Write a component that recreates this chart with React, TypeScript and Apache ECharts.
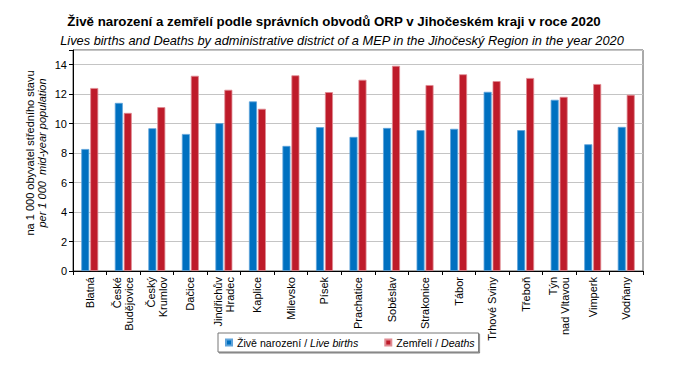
import React, { useEffect, useRef } from "react";
import * as echarts from "echarts";

const categories = [
  "Blatná", "České\nBudějovice", "Český\nKrumlov", "Dačice", "Jindřichův\nHradec", "Kaplice",
  "Milevsko", "Písek", "Prachatice", "Soběslav", "Strakonice", "Tábor", "Trhové Sviny",
  "Třeboň", "Týn\nnad Vltavou", "Vimperk", "Vodňany",
];
const liveBirths = [8.28, 11.41, 9.69, 9.3, 10.03, 11.51, 8.49, 9.76, 9.1, 9.71, 9.56, 9.65, 12.16, 9.56, 11.62, 8.6, 9.78];
const deaths = [12.42, 10.73, 11.12, 13.25, 12.3, 11.01, 13.28, 12.14, 12.98, 13.93, 12.62, 13.35, 12.89, 13.1, 11.82, 12.69, 11.96];
const yTicks = [0, 2, 4, 6, 8, 10, 12, 14];

const FONT = "'Liberation Sans', Arial, sans-serif";
const BLUE = "#0070C0";
const RED = "#BE1B2A";

export default function App() {
  const ref = useRef<HTMLDivElement>(null);
  useEffect(() => {
    if (!ref.current) return;
    const chart = echarts.init(ref.current, null, { renderer: "svg" });
    chart.setOption({
      animation: false,
      textStyle: { fontFamily: FONT },
      title: [
        {
          text: "Živě narození a zemřelí podle správních obvodů ORP v Jihočeském kraji v roce 2020",
          left: 329, top: 10, textAlign: "center",
          textStyle: { fontSize: 13.3, fontWeight: "bold", color: "#000", fontFamily: FONT },
        },
        {
          text: "Lives births and Deaths by administrative district of a MEP in the Jihočeský Region in the year 2020",
          left: 337, top: 29, textAlign: "center",
          textStyle: { fontSize: 12.8, fontStyle: "italic", fontWeight: "normal", color: "#000", fontFamily: FONT },
        },
      ],
      grid: { left: 73, right: 31, top: 50, bottom: 107, show: true, borderColor: "#555", borderWidth: 1 },
      legend: {
        left: 218, top: 333,
        itemWidth: 6, itemHeight: 6, itemGap: 26,
        icon: "rect",
        padding: [4, 4, 4, 7],
        borderColor: "#777", borderWidth: 1,
        shadowColor: "rgba(0,0,0,0.5)", shadowOffsetX: 1, shadowOffsetY: 1, shadowBlur: 1,
        backgroundColor: "#fff",
        data: ["live", "deaths"],
        formatter: (name: string) =>
          name === "live" ? "{a|Živě narození / }{b|Live births}" : "{a|Zemřelí / }{b|Deaths}",
        textStyle: {
          fontSize: 10.6, color: "#000",
          rich: {
            a: { fontSize: 10.6, fontFamily: FONT, color: "#000" },
            b: { fontSize: 10.6, fontFamily: FONT, fontStyle: "italic", color: "#000" },
          },
        },
      },
      xAxis: {
        type: "category",
        data: categories,
        axisLine: { lineStyle: { color: "#000" } },
        axisTick: { show: true, alignWithLabel: false, length: 4, lineStyle: { color: "#000" } },
        axisLabel: { rotate: 90, fontSize: 11, color: "#000", margin: 6, lineHeight: 12, interval: 0, fontFamily: FONT },
      },
      yAxis: {
        type: "value",
        min: 0, max: 15, interval: 2,
        axisLine: { show: true, lineStyle: { color: "#000" } },
        axisTick: { show: true, length: 4, lineStyle: { color: "#000" } },
        axisLabel: {
          fontSize: 11, color: "#000", margin: 6, fontFamily: FONT,
          formatter: (v: number) => (yTicks.includes(v) ? String(v) : ""),
        },
        splitLine: { lineStyle: { color: "#C4C4C4", width: 1 } },
      },
      series: [
        {
          name: "live", type: "bar", data: liveBirths, barWidth: 8, barGap: "12%",
          itemStyle: { color: BLUE, borderColor: "#5FA3DA", borderWidth: 0.8 },
        },
        {
          name: "deaths", type: "bar", data: deaths, barWidth: 8,
          itemStyle: { color: RED, borderColor: "#E08A92", borderWidth: 0.8 },
        },
      ],
      graphic: [
        {
          type: "text", x: 30, y: 153, rotation: Math.PI / 2,
          style: { text: "na 1 000 obyvatel středního stavu", fontSize: 11, fontFamily: FONT, fill: "#000", align: "center", verticalAlign: "middle" },
        },
        {
          type: "text", x: 42, y: 153, rotation: Math.PI / 2,
          style: { text: "per 1 000  mid-year population", fontSize: 11, fontStyle: "italic", fontFamily: FONT, fill: "#000", align: "center", verticalAlign: "middle" },
        },
      ],
    });
    return () => chart.dispose();
  }, []);
  return <div ref={ref} style={{ position: "fixed", left: 0, top: 0, width: 674, height: 378, background: "#fff" }} />;
}
